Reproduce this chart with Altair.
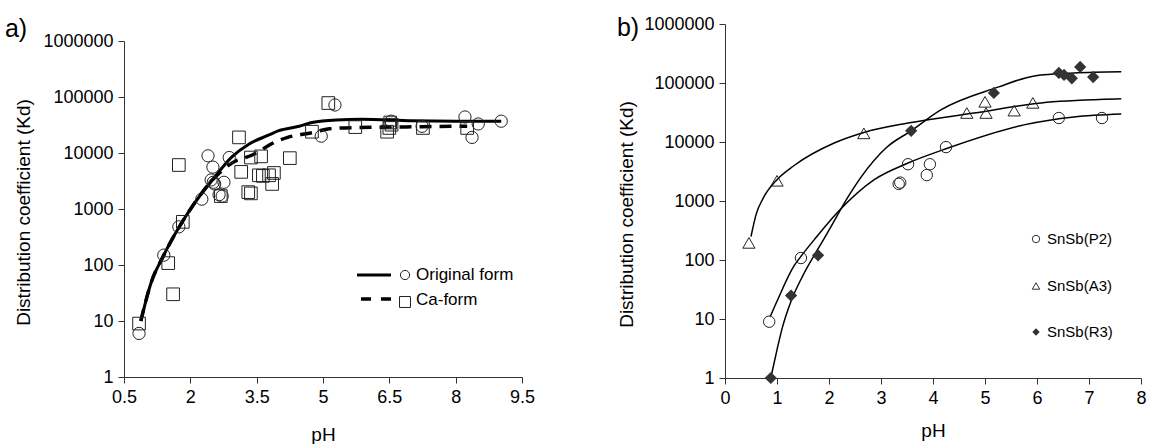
import altair as alt
import pandas as pd

FONT = "Liberation Sans"

# ---------------- Panel a data ----------------
a_orig_ph = [0.84, 1.40, 1.74, 2.26, 2.40, 2.51, 2.47, 2.52, 2.55, 2.76, 2.88, 2.65, 2.72,
             4.96, 5.27, 6.54, 7.24, 8.21, 8.51, 8.37, 9.03]
a_orig_kd = [6, 150, 480, 1500, 8900, 5600, 3300, 3000, 2800, 3000, 8300, 1800, 1700,
             20000, 72000, 37000, 30000, 44000, 33000, 19000, 37000]

a_ca_ph = [0.84, 1.50, 1.61, 1.83, 1.74, 2.69, 3.10, 3.15, 3.37, 3.60, 3.55, 3.64, 3.78,
           3.89, 3.85, 4.25, 3.31, 3.37, 4.75, 5.12, 5.73, 6.52, 6.45, 6.50, 6.55, 7.26, 8.26]
a_ca_kd = [9, 108, 30, 590, 6100, 1700, 19000, 4600, 8300, 8700, 4000, 3900, 4000,
           4400, 2800, 8100, 2000, 1900, 24000, 78000, 29000, 35000, 24000, 28000, 32000, 28000, 28000]

a_orig_line_ph = [0.88, 1.1, 1.4, 1.75, 2.04, 2.5, 2.94, 3.33, 3.78, 4.0, 4.46, 4.75, 5.3, 5.88, 6.5, 7.0, 8.0, 9.03]
a_orig_line_kd = [10, 45, 150, 480, 1100, 3300, 8500, 14500, 21000, 25000, 30000, 35000, 39000, 40000, 39000, 37500, 37000, 37000]

a_ca_line_ph = [0.88, 1.1, 1.4, 1.75, 2.04, 2.5, 2.94, 3.4, 3.94, 4.2, 4.75, 5.14, 5.75, 6.5, 7.24, 7.92, 8.26]
a_ca_line_kd = [10, 45, 150, 480, 1100, 3300, 6600, 9200, 16000, 19000, 23000, 27000, 28500, 29000, 29500, 30000, 30000]

a_legend_labels = ["Original form", "Ca-form"]
a_x_ticks = [0.5, 2, 3.5, 5, 6.5, 8, 9.5]

# ---------------- Panel b data ----------------
b_p2_ph = [0.85, 1.46, 3.34, 3.37, 3.52, 3.88, 3.94, 4.25, 6.42, 7.25]
b_p2_kd = [9, 108, 1950, 2050, 4200, 2750, 4200, 8200, 25500, 25500]

b_a3_ph = [0.46, 1.0, 2.67, 4.65, 5.0, 5.02, 5.56, 5.92]
b_a3_kd = [195, 2200, 14000, 31000, 48000, 31000, 34000, 46000]

b_r3_ph = [0.88, 1.27, 1.79, 3.58, 5.17, 6.42, 6.52, 6.67, 6.83, 7.08]
b_r3_kd = [1, 25, 120, 15500, 68000, 148000, 137000, 120000, 187000, 126000]

b_p2_line_ph = [0.87, 1.0, 1.33, 1.46, 1.75, 2.17, 2.87, 3.52, 4.29, 5.75, 6.71, 7.62]
b_p2_line_kd = [11, 20, 80, 115, 240, 650, 2300, 4400, 7900, 19500, 26500, 29700]

b_a3_line_ph = [0.5, 0.6, 0.73, 1.0, 1.33, 2.1, 2.67, 3.52, 4.79, 6.08, 7.3, 7.62]
b_a3_line_kd = [250, 600, 1100, 2300, 4000, 9600, 14500, 21000, 31000, 46000, 53000, 54000]

b_r3_line_ph = [0.88, 1.0, 1.1, 1.27, 1.5, 1.78, 2.0, 2.36, 2.62, 3.1, 3.58, 4.15, 5.25, 5.95, 6.71, 7.62]
b_r3_line_kd = [1, 3, 7, 20, 55, 150, 320, 1150, 2570, 8000, 15500, 35000, 85000, 132000, 148000, 155000]

b_legend_labels = ["SnSb(P2)", "SnSb(A3)", "SnSb(R3)"]
b_x_ticks = [0, 1, 2, 3, 4, 5, 6, 7, 8]

y_ticks = [1, 10, 100, 1000, 10000, 100000, 1000000]
y_title = "Distribution coefficient (Kd)"


def df(ph, kd):
    return pd.DataFrame({"pH": ph, "Kd": kd})


def one(label):
    return pd.DataFrame({"label": [label]})


def enc(xdom, xticks, title_y, title_x, ytitle_y, yrange=None):
    x = alt.X("pH:Q", scale=alt.Scale(domain=xdom, nice=False, zero=False),
              axis=alt.Axis(values=xticks, format=".2~g", title="pH",
                            titleY=title_y, titleBaseline="middle"))
    yscale = alt.Scale(type="log", domain=[1, 1000000], nice=False)
    if yrange is not None:
        yscale = alt.Scale(type="log", domain=[1, 1000000], nice=False, range=yrange)
    y = alt.Y("Kd:Q", scale=yscale,
              axis=alt.Axis(values=y_ticks, format="d", title=y_title,
                            titleX=title_x, titleY=ytitle_y, titleBaseline="middle"))
    return x, y


# ---------------- Panel a ----------------
# plot area spans 17..353 inside a 353-high group (its top sits lower than panel b's)
xa, ya = enc([0.5, 9.5], a_x_ticks, 57, -101, 188, yrange=[353, 17])

a_line1 = alt.Chart(df(a_orig_line_ph, a_orig_line_kd)).mark_line(
    color="black", strokeWidth=3, interpolate="monotone").encode(x=xa, y=ya)
a_line2 = alt.Chart(df(a_ca_line_ph, a_ca_line_kd)).mark_line(
    color="black", strokeWidth=3.5, strokeDash=[12, 8], interpolate="monotone").encode(x=xa, y=ya)
a_pts1 = alt.Chart(df(a_orig_ph, a_orig_kd)).mark_point(
    shape="circle", size=150, filled=False, color="#222", strokeWidth=1, opacity=1).encode(x=xa, y=ya)
a_pts2 = alt.Chart(df(a_ca_ph, a_ca_kd)).mark_point(
    shape="square", size=160, filled=False, color="#222", strokeWidth=1, opacity=1).encode(x=xa, y=ya)

a_leg_l1 = alt.Chart(one(a_legend_labels[0])).mark_rule(color="black", strokeWidth=3).encode(
    x=alt.value(233), x2=alt.value(267), y=alt.value(251))
a_leg_l2 = alt.Chart(one(a_legend_labels[1])).mark_rule(color="black", strokeWidth=3.5, strokeDash=[10, 10]).encode(
    x=alt.value(237), x2=alt.value(268), y=alt.value(275))
a_leg_s1 = alt.Chart(one(a_legend_labels[0])).mark_point(
    shape="circle", size=85, filled=False, color="#222", strokeWidth=1, opacity=1).encode(
    x=alt.value(281), y=alt.value(251))
a_leg_s2 = alt.Chart(one(a_legend_labels[1])).mark_point(
    shape="square", size=120, filled=False, color="#222", strokeWidth=1, opacity=1).encode(
    x=alt.value(281), y=alt.value(278))
a_leg_t1 = alt.Chart(one(a_legend_labels[0])).mark_text(
    align="left", baseline="middle", font=FONT, fontSize=17, color="black").encode(
    x=alt.value(292), y=alt.value(251), text="label:N")
a_leg_t2 = alt.Chart(one(a_legend_labels[1])).mark_text(
    align="left", baseline="middle", font=FONT, fontSize=17, color="black").encode(
    x=alt.value(292), y=alt.value(276), text="label:N")
a_tag = alt.Chart(one("a)")).mark_text(
    align="center", baseline="middle", font=FONT, fontSize=25, color="black").encode(
    x=alt.value(-108), y=alt.value(5), text="label:N")

panel_a = alt.layer(a_line1, a_line2, a_pts1, a_pts2,
                    a_leg_l1, a_leg_l2, a_leg_s1, a_leg_s2, a_leg_t1, a_leg_t2, a_tag
                    ).properties(width=398, height=353)

# ---------------- Panel b ----------------
xb, yb = enc([0, 8], b_x_ticks, 52, -99, 190)

lines_b = [
    alt.Chart(df(p, k)).mark_line(color="black", strokeWidth=1.5, interpolate="monotone").encode(x=xb, y=yb)
    for p, k in [(b_p2_line_ph, b_p2_line_kd), (b_a3_line_ph, b_a3_line_kd), (b_r3_line_ph, b_r3_line_kd)]
]
b_pts1 = alt.Chart(df(b_p2_ph, b_p2_kd)).mark_point(
    shape="circle", size=130, filled=False, color="#222", strokeWidth=1, opacity=1).encode(x=xb, y=yb)
b_pts2 = alt.Chart(df(b_a3_ph, b_a3_kd)).mark_point(
    shape="triangle-up", size=150, filled=False, color="#222", strokeWidth=1, opacity=1).encode(x=xb, y=yb)
b_pts3 = alt.Chart(df(b_r3_ph, b_r3_kd)).mark_point(
    shape="diamond", size=150, filled=True, color="#333", strokeWidth=0, opacity=1).encode(x=xb, y=yb)

b_leg = []
for i, (shape, filled) in enumerate([("circle", False), ("triangle-up", False), ("diamond", True)]):
    yy = [215, 262, 308][i]
    b_leg.append(alt.Chart(one(b_legend_labels[i])).mark_point(
        shape=shape, size=55, filled=filled, color="#333", strokeWidth=1, opacity=1).encode(
        x=alt.value(311), y=alt.value(yy)))
    b_leg.append(alt.Chart(one(b_legend_labels[i])).mark_text(
        align="left", baseline="middle", font=FONT, fontSize=15, color="black").encode(
        x=alt.value(322), y=alt.value(yy), text="label:N"))
b_tag = alt.Chart(one("b)")).mark_text(
    align="center", baseline="middle", font=FONT, fontSize=25, color="black").encode(
    x=alt.value(-97), y=alt.value(4), text="label:N")

panel_b = alt.layer(*lines_b, b_pts1, b_pts2, b_pts3, *b_leg, b_tag).properties(width=416, height=354)

chart = alt.hconcat(panel_a, panel_b, spacing=81).properties(
    padding={"left": 4, "top": 15, "right": 0, "bottom": 0}
).configure(background="white").configure_view(stroke=None).configure_axis(
    grid=False, labelFlush=False,
    domainColor="#333", tickColor="#333", labelColor="black", titleColor="black",
    tickSize=6, labelPadding=5,
    labelFont=FONT, titleFont=FONT, labelFontSize=18, titleFontSize=19, titleFontWeight="normal",
)

chart.save("out.html", embed_options={"renderer": "svg", "actions": False})
